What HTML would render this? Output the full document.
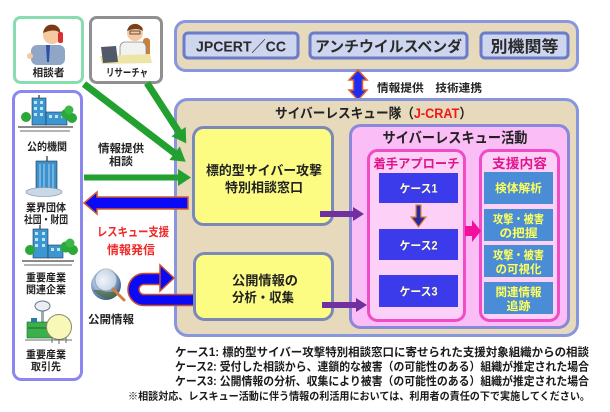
<!DOCTYPE html>
<html><head><meta charset="utf-8">
<style>
html,body{margin:0;padding:0;background:#fff;}
svg{display:block;}
text{font-family:"Liberation Sans","Noto Sans CJK JP",sans-serif;font-weight:bold;}
</style></head><body>
<svg width="610" height="412" viewBox="0 0 610 412" xmlns="http://www.w3.org/2000/svg">
<defs>
<radialGradient id="gl" cx="0.4" cy="0.35" r="0.7">
<stop offset="0" stop-color="#ffffff"/><stop offset="0.5" stop-color="#9fb8d8"/><stop offset="1" stop-color="#2a5088"/>
</radialGradient>
</defs>

<!-- top box -->
<rect x="175.5" y="21.5" width="402" height="49" rx="10" fill="#e6d9bc" stroke="#8796df" stroke-width="3"/>
<rect x="184" y="33" width="114" height="25" rx="4" fill="#cdd5ef" stroke="#6b7cc9" stroke-width="3"/>
<text x="241" y="51.5" font-size="15" text-anchor="middle" fill="#2a2a2a" textLength="90" lengthAdjust="spacingAndGlyphs">JPCERT／CC</text>
<rect x="310" y="33" width="157" height="25" rx="4" fill="#cdd5ef" stroke="#6b7cc9" stroke-width="3"/>
<text x="388.5" y="51.5" font-size="15" text-anchor="middle" fill="#2a2a2a" textLength="147" lengthAdjust="spacingAndGlyphs">アンチウイルスベンダ</text>
<rect x="481" y="33" width="87" height="25" rx="4" fill="#cdd5ef" stroke="#6b7cc9" stroke-width="3"/>
<text x="524.5" y="52" font-size="16" text-anchor="middle" fill="#2a2a2a" textLength="68" lengthAdjust="spacingAndGlyphs">別機関等</text>

<!-- double arrow -->
<polygon points="358,70 367,80 362.5,80 362.5,90 367,90 358,100 349,90 353.5,90 353.5,80 349,80" fill="#1c2cf2" stroke="#e0602c" stroke-width="1.5"/>
<text x="377" y="91.5" font-size="11" fill="#222" textLength="105" lengthAdjust="spacingAndGlyphs">情報提供　技術連携</text>

<!-- main box -->
<rect x="175.5" y="99.5" width="402" height="236" rx="12" fill="#e6d9bc" stroke="#8796df" stroke-width="3"/>
<text x="275" y="118" font-size="13.5" fill="#222" textLength="197" lengthAdjust="spacingAndGlyphs">サイバーレスキュー隊（<tspan fill="#f01818">J-CRAT</tspan>）</text>

<!-- left panel boxes -->
<rect x="14.5" y="17.5" width="68" height="65" rx="6" fill="#fff" stroke="#88dcb0" stroke-width="3"/>
<rect x="90.5" y="17.5" width="71" height="65" rx="6" fill="#fff" stroke="#909090" stroke-width="3"/>
<rect x="13.5" y="91.5" width="68" height="288" rx="8" fill="#fff" stroke="#8a88f0" stroke-width="3"/>

<!-- person 1 -->
<rect x="31" y="45" width="34" height="20" rx="6" fill="#8fa6c6"/>
<polygon points="46,45 50,45 49,62 47,62" fill="#2f50a8"/>
<circle cx="52" cy="35" r="9" fill="#f6c9a0"/>
<path d="M43 33 Q45 23 55 25 Q61 28 60 33 Q55 28 43 33Z" fill="#7a3a18"/>
<rect x="58" y="32" width="5" height="11" rx="2" fill="#d83030"/>
<circle cx="30" cy="56" r="3" fill="#f6c9a0"/>
<text x="48.5" y="76" font-size="10.5" text-anchor="middle" fill="#222" textLength="32" lengthAdjust="spacingAndGlyphs">相談者</text>

<!-- person 2 -->
<rect x="143" y="38" width="7" height="25" rx="3" fill="#c9803a"/>
<rect x="120" y="42" width="26" height="20" rx="5" fill="#f2f2f2" stroke="#8a8a8a" stroke-width="0.8"/>
<circle cx="135" cy="33" r="8" fill="#f6c9a0"/>
<path d="M127 31 Q129 23 137 24 Q143 26 143 31 Q137 27 127 31Z" fill="#7a4018"/>
<rect x="130" y="31" width="10" height="3" fill="none" stroke="#333" stroke-width="0.8"/>
<polygon points="100,56 150,54 152,63 102,64" fill="#efe4a8"/>
<polygon points="101,47 116,46 118,62 103,63" fill="#505a68"/>
<text x="127" y="76" font-size="10.5" text-anchor="middle" fill="#222" textLength="42" lengthAdjust="spacingAndGlyphs">リサーチャ</text>

<!-- building 1 -->
<line x1="39" y1="95" x2="39" y2="98" stroke="#555" stroke-width="1.5"/>
<rect x="32" y="98" width="14" height="27" fill="#3c96d0" stroke="#235" stroke-width="0.6"/>
<rect x="46" y="112" width="21" height="13" fill="#3c96d0" stroke="#235" stroke-width="0.6"/>
<g fill="#bfe4f8"><rect x="34" y="101" width="3" height="3"/><rect x="40" y="101" width="3" height="3"/><rect x="34" y="107" width="3" height="3"/><rect x="40" y="107" width="3" height="3"/><rect x="34" y="113" width="3" height="3"/><rect x="40" y="113" width="3" height="3"/><rect x="49" y="115" width="3" height="3"/><rect x="55" y="115" width="3" height="3"/><rect x="61" y="115" width="3" height="3"/></g>
<circle cx="26" cy="117" r="5" fill="#2aa838"/>
<circle cx="66" cy="114" r="5" fill="#2aa838"/><circle cx="72" cy="118" r="5" fill="#2aa838"/><circle cx="69" cy="110" r="4.5" fill="#3cb848"/>
<line x1="18" y1="127" x2="73" y2="127" stroke="#444" stroke-width="1.3"/>
<line x1="20" y1="131" x2="70" y2="131" stroke="#888" stroke-width="1.3"/>
<text x="47" y="150" font-size="10.5" text-anchor="middle" fill="#222" textLength="40" lengthAdjust="spacingAndGlyphs">公的機関</text>

<!-- building 2 -->
<line x1="47" y1="156" x2="47" y2="161" stroke="#555" stroke-width="1.5"/>
<rect x="36" y="161" width="21" height="31" fill="#3c90cc" stroke="#234" stroke-width="0.6"/>
<g stroke="#a8d8f4" stroke-width="1"><line x1="40" y1="164" x2="40" y2="190"/><line x1="44" y1="164" x2="44" y2="190"/><line x1="49" y1="164" x2="49" y2="190"/><line x1="53" y1="164" x2="53" y2="190"/></g>
<ellipse cx="44" cy="192" rx="18" ry="4.5" fill="#c8d8e8" stroke="#889" stroke-width="0.6"/>
<text x="46" y="211" font-size="10.5" text-anchor="middle" fill="#222" textLength="40" lengthAdjust="spacingAndGlyphs">業界団体</text>
<text x="46" y="223" font-size="10.5" text-anchor="middle" fill="#222" textLength="44" lengthAdjust="spacingAndGlyphs">社団・財団</text>

<!-- building 3 -->
<line x1="40" y1="225" x2="40" y2="229" stroke="#555" stroke-width="1.5"/>
<rect x="33" y="229" width="15" height="29" fill="#3c96d0" stroke="#235" stroke-width="0.6"/>
<rect x="48" y="245" width="15" height="13" fill="#3c96d0" stroke="#235" stroke-width="0.6"/>
<g fill="#bfe4f8"><rect x="35" y="232" width="3" height="3"/><rect x="42" y="232" width="3" height="3"/><rect x="35" y="238" width="3" height="3"/><rect x="42" y="238" width="3" height="3"/><rect x="35" y="244" width="3" height="3"/><rect x="42" y="244" width="3" height="3"/><rect x="51" y="248" width="3" height="3"/><rect x="57" y="248" width="3" height="3"/></g>
<circle cx="30" cy="250" r="5" fill="#2aa838"/>
<circle cx="66" cy="247" r="5.5" fill="#2aa838"/><circle cx="73" cy="250" r="5" fill="#2aa838"/><circle cx="70" cy="243" r="4.5" fill="#3cb848"/>
<line x1="22" y1="261" x2="74" y2="261" stroke="#444" stroke-width="1.3"/>
<line x1="24" y1="265" x2="72" y2="265" stroke="#888" stroke-width="1.3"/>
<text x="46" y="281" font-size="10.5" text-anchor="middle" fill="#222" textLength="40" lengthAdjust="spacingAndGlyphs">重要産業</text>
<text x="46" y="293" font-size="10.5" text-anchor="middle" fill="#222" textLength="40" lengthAdjust="spacingAndGlyphs">関連企業</text>

<!-- factory -->
<rect x="41" y="310" width="3" height="16" fill="#9ab" />
<ellipse cx="42.5" cy="306" rx="7.5" ry="5" fill="#e8eef4" stroke="#6a7a8a" stroke-width="1"/>
<rect x="27" y="322" width="25" height="16" fill="#3cae4a" stroke="#1a6a2a" stroke-width="0.6"/>
<line x1="28" y1="328" x2="51" y2="328" stroke="#1a6a2a" stroke-width="1"/>
<rect x="31" y="318" width="6" height="4" fill="#2a7aaa"/>
<circle cx="59" cy="327" r="12.5" fill="#f8f8b8" stroke="#8a8a6a" stroke-width="1"/>
<g stroke="#6a6a6a" stroke-width="1"><line x1="52" y1="337" x2="52" y2="343"/><line x1="59" y1="339" x2="59" y2="344"/><line x1="66" y1="337" x2="66" y2="343"/><line x1="25" y1="340" x2="72" y2="340"/></g>
<text x="46" y="358" font-size="10.5" text-anchor="middle" fill="#222" textLength="40" lengthAdjust="spacingAndGlyphs">重要産業</text>
<text x="46" y="370" font-size="10.5" text-anchor="middle" fill="#222" textLength="30" lengthAdjust="spacingAndGlyphs">取引先</text>

<!-- green arrows -->
<g fill="#22a030">
<g transform="translate(84,84) rotate(37.4)"><polygon points="0,-3.5 114,-3.5 114,-8.5 128,0 114,8.5 114,3.5 0,3.5"/></g>
<g transform="translate(147,83) rotate(57)"><polygon points="0,-3.5 58,-3.5 58,-8.5 72,0 58,8.5 58,3.5 0,3.5"/></g>
<polygon points="84,174.5 178,174.5 178,169 191,177.5 178,186 178,180.5 84,180.5"/>
</g>
<text x="121" y="152" font-size="11" text-anchor="middle" fill="#222" textLength="46" lengthAdjust="spacingAndGlyphs">情報提供</text>
<text x="121" y="165" font-size="11" text-anchor="middle" fill="#222" textLength="24" lengthAdjust="spacingAndGlyphs">相談</text>

<!-- blue left arrow -->
<polygon points="84,203 97,192 97,197 188,197 188,209 97,209 97,214" fill="#0a0af6" stroke="#d85a28" stroke-width="1.5"/>
<text x="133" y="236" font-size="12" text-anchor="middle" fill="#f02828" textLength="72" lengthAdjust="spacingAndGlyphs">レスキュー支援</text>
<text x="131" y="254" font-size="12" text-anchor="middle" fill="#f02828" textLength="48" lengthAdjust="spacingAndGlyphs">情報発信</text>

<!-- U arrow -->
<path d="M193 300 H144 A10.5 10.5 0 0 1 144 279 H162" fill="none" stroke="#c85028" stroke-width="12.5"/>
<path d="M194 300 H144 A10.5 10.5 0 0 1 144 279 H163" fill="none" stroke="#0a0af6" stroke-width="9.5"/>
<polygon points="160,265 174,278 160,291" fill="#0a0af6" stroke="#c85028" stroke-width="1.5"/>

<!-- globe -->
<circle cx="106" cy="285" r="15" fill="url(#gl)"/>
<path d="M93 290 Q100 298 110 299 Q118 297 120 290 Q110 294 100 290Z" fill="#4a6a3a" opacity="0.7"/>
<circle cx="106" cy="280" r="11" fill="#e8f0f6" opacity="0.6" stroke="#8898a8" stroke-width="1.2"/>
<line x1="113" y1="289" x2="124" y2="300" stroke="#d08040" stroke-width="3" stroke-linecap="round"/>
<text x="111" y="323" font-size="11" text-anchor="middle" fill="#222" textLength="46" lengthAdjust="spacingAndGlyphs">公開情報</text>

<!-- yellow boxes -->
<rect x="193.5" y="127.5" width="139" height="97" rx="10" fill="#fcfc82" stroke="#7b89b8" stroke-width="3"/>
<text x="264" y="175" font-size="13" text-anchor="middle" fill="#222" textLength="116" lengthAdjust="spacingAndGlyphs">標的型サイバー攻撃</text>
<text x="264" y="192" font-size="13" text-anchor="middle" fill="#222" textLength="78" lengthAdjust="spacingAndGlyphs">特別相談窓口</text>
<rect x="194.5" y="253.5" width="138" height="66" rx="10" fill="#fcfc82" stroke="#7b89b8" stroke-width="3"/>
<text x="265" y="285" font-size="13" text-anchor="middle" fill="#222" textLength="66" lengthAdjust="spacingAndGlyphs">公開情報の</text>
<text x="263" y="302" font-size="13" text-anchor="middle" fill="#222" textLength="62" lengthAdjust="spacingAndGlyphs">分析・収集</text>

<!-- pink box -->
<rect x="350.5" y="125.5" width="218" height="202" rx="10" fill="#fbbdf5" stroke="#8a88d8" stroke-width="3"/>
<text x="455" y="143" font-size="14.5" text-anchor="middle" fill="#222" textLength="145" lengthAdjust="spacingAndGlyphs">サイバーレスキュー活動</text>

<!-- purple arrows (on top of pink box) -->
<polygon points="320,211 353,211 353,207 364,214 353,221 353,217 320,217" fill="#7030a0"/>
<polygon points="322,302 356,302 356,298 367,305 356,312 356,308 322,308" fill="#7030a0"/>

<rect x="368.5" y="150.5" width="96" height="170" rx="9" fill="#fdd0f8" stroke="#f04cc8" stroke-width="3"/>
<text x="416.5" y="168" font-size="12.5" text-anchor="middle" fill="#e0158c" textLength="86" lengthAdjust="spacingAndGlyphs">着手アプローチ</text>
<rect x="379" y="173" width="79" height="30" fill="#3b3bec"/>
<text x="418.5" y="192.5" font-size="11.5" text-anchor="middle" fill="#ffffc4" textLength="38" lengthAdjust="spacingAndGlyphs">ケース1</text>
<polygon points="416,205 421,205 421,217 426,217 418.5,227 411,217 416,217" fill="#2a2aa0" stroke="#e08a30" stroke-width="1.2"/>
<rect x="379" y="229" width="79" height="31" fill="#3b3bec"/>
<text x="418.5" y="249.5" font-size="11.5" text-anchor="middle" fill="#ffffc4" textLength="38" lengthAdjust="spacingAndGlyphs">ケース2</text>
<rect x="379" y="275" width="79" height="32" fill="#3b3bec"/>
<text x="418.5" y="295.5" font-size="11.5" text-anchor="middle" fill="#ffffc4" textLength="38" lengthAdjust="spacingAndGlyphs">ケース3</text>

<rect x="480.5" y="150.5" width="78" height="170" rx="9" fill="#fdd0f8" stroke="#f04cc8" stroke-width="3"/>
<text x="519.5" y="168" font-size="13" text-anchor="middle" fill="#e0158c" textLength="55" lengthAdjust="spacingAndGlyphs">支援内容</text>
<g fill="#4a8dd6">
<rect x="484" y="172" width="69" height="32"/>
<rect x="484" y="209" width="69" height="32"/>
<rect x="484" y="245" width="69" height="32"/>
<rect x="484" y="282" width="69" height="32"/>
</g>
<g fill="#ffff5a" font-size="11.5" text-anchor="middle">
<text x="518.5" y="192" textLength="47" lengthAdjust="spacingAndGlyphs">検体解析</text>
<text x="518.5" y="223" textLength="51" lengthAdjust="spacingAndGlyphs">攻撃・被害</text>
<text x="518.5" y="237" textLength="38" lengthAdjust="spacingAndGlyphs">の把握</text>
<text x="518.5" y="259" textLength="51" lengthAdjust="spacingAndGlyphs">攻撃・被害</text>
<text x="518.5" y="273" textLength="46" lengthAdjust="spacingAndGlyphs">の可視化</text>
<text x="518.5" y="296" textLength="46" lengthAdjust="spacingAndGlyphs">関連情報</text>
<text x="518.5" y="310" textLength="24" lengthAdjust="spacingAndGlyphs">追跡</text>
</g>

<!-- magenta arrow -->
<polygon points="465,226 472,226 472,220 481,231 472,242 472,236 465,236" fill="#f0109c"/>

<!-- captions -->
<g fill="#1a1a1a">
<text x="175" y="356" font-size="11.5" textLength="414" lengthAdjust="spacingAndGlyphs">ケース1: 標的型サイバー攻撃特別相談窓口に寄せられた支援対象組織からの相談</text>
<text x="175" y="370.5" font-size="11.5" textLength="414" lengthAdjust="spacingAndGlyphs">ケース2: 受付した相談から、連鎖的な被害（の可能性のある）組織が推定された場合</text>
<text x="175" y="385" font-size="11.5" textLength="414" lengthAdjust="spacingAndGlyphs">ケース3: 公開情報の分析、収集により被害（の可能性のある）組織が推定された場合</text>
<text x="128" y="399.5" font-size="10.5" textLength="462" lengthAdjust="spacingAndGlyphs">※相談対応、レスキュー活動に伴う情報の利活用においては、利用者の責任の下で実施してください。</text>
</g>
</svg>
</body></html>
